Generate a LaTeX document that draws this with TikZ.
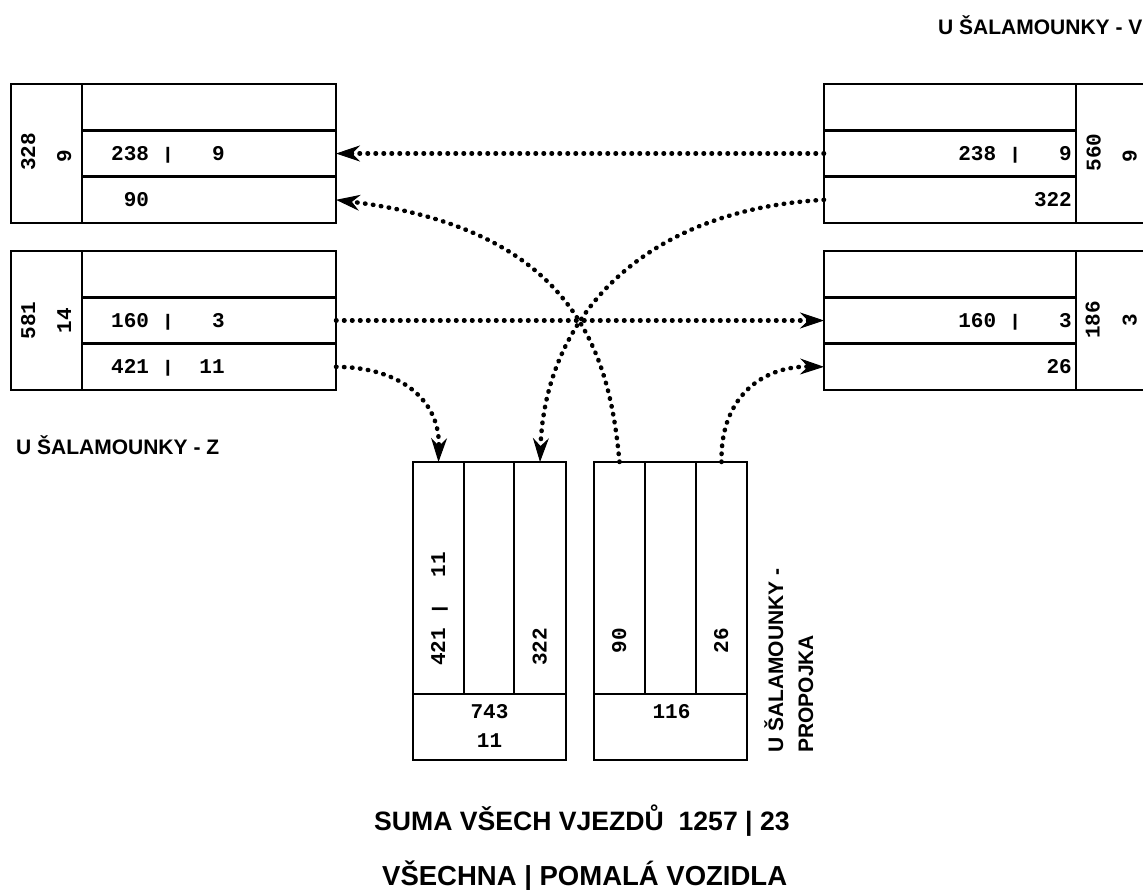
\documentclass[tikz,border=0pt]{standalone}
\usepackage{fontspec}
\usepackage{graphicx}
\setmainfont{Liberation Sans}
\newfontfamily\cellfont{Liberation Mono}
\usetikzlibrary{arrows.meta}
\newcommand\vbr{\raisebox{1pt}{\scalebox{1}[0.8]{|}}}
\tikzset{
 box/.style={draw, line width=2.8pt, rectangle, inner sep=0pt, outer sep=0pt},
 num/.style={font=\cellfont\bfseries\fontsize{21pt}{25pt}\selectfont, inner sep=0pt, text height=13pt, text depth=0pt},
 lab/.style={font=\bfseries\fontsize{21pt}{25pt}\selectfont, inner sep=0pt},
 title/.style={font=\bfseries\fontsize{27.5pt}{32pt}\selectfont, inner sep=0pt},
 flow/.style={line width=4.5pt, dash pattern=on 0.5pt off 7.5pt, line cap=round,
   -{Stealth[length=24pt,width=16pt,inset=8pt,line width=1pt]}},
}
\begin{document}
\begin{tikzpicture}[x=1pt,y=-1pt]
\useasboundingbox (0,0) rectangle (1143,889);
\clip (0,0) rectangle (1143,889);
\fill[white] (0,0) rectangle (1143,889);

% ---- top-left box
\node[box, minimum width=71pt, minimum height=139pt] (L1n) at (46.5,153.5) {};
\node[box, minimum width=254pt, minimum height=46.33pt] (L1a) at (209,107.17) {};
\node[box, minimum width=254pt, minimum height=46.33pt] (L1b) at (209,153.5) {};
\node[box, minimum width=254pt, minimum height=46.33pt] (L1c) at (209,199.83) {};
\node[num, rotate=90] (L1t) at (28.5,152) {328};
\node[num, rotate=90] (L1s) at (64.5,156) {9};
\node[num, anchor=west] (L1bt) at (111,153.5) {238~\vbr~~~9};
\node[num, anchor=west] (L1ct) at (111,199.83) {~90};

% ---- bottom-left box
\node[box, minimum width=71pt, minimum height=139pt] (L2n) at (46.5,320.5) {};
\node[box, minimum width=254pt, minimum height=46.33pt] (L2a) at (209,274.17) {};
\node[box, minimum width=254pt, minimum height=46.33pt] (L2b) at (209,320.5) {};
\node[box, minimum width=254pt, minimum height=46.33pt] (L2c) at (209,366.83) {};
\node[num, rotate=90] (L2t) at (28.5,320.5) {581};
\node[num, rotate=90] (L2s) at (64.5,320.5) {14};
\node[num, anchor=west] (L2bt) at (111,320.5) {160~\vbr~~~3};
\node[num, anchor=west] (L2ct) at (111,366.83) {421~\vbr~~11};

% ---- top-right box
\node[box, minimum width=74pt, minimum height=139pt] (R1n) at (1113,153.5) {};
\node[box, minimum width=252pt, minimum height=46.33pt] (R1a) at (950,107.17) {};
\node[box, minimum width=252pt, minimum height=46.33pt] (R1b) at (950,153.5) {};
\node[box, minimum width=252pt, minimum height=46.33pt] (R1c) at (950,199.83) {};
\node[num, rotate=90] (R1t) at (1094,152.5) {560};
\node[num, rotate=90] (R1s) at (1130,156) {9};
\node[num, anchor=east] (R1bt) at (1072,153.5) {238~\vbr~~~9};
\node[num, anchor=east] (R1ct) at (1072,199.83) {322};

% ---- bottom-right box
\node[box, minimum width=74pt, minimum height=139pt] (R2n) at (1113,320.5) {};
\node[box, minimum width=252pt, minimum height=46.33pt] (R2a) at (950,274.17) {};
\node[box, minimum width=252pt, minimum height=46.33pt] (R2b) at (950,320.5) {};
\node[box, minimum width=252pt, minimum height=46.33pt] (R2c) at (950,366.83) {};
\node[num, rotate=90] (R2t) at (1093,320) {186};
\node[num, rotate=90] (R2s) at (1130,320.5) {3};
\node[num, anchor=east] (R2bt) at (1072,320.5) {160~\vbr~~~3};
\node[num, anchor=east] (R2ct) at (1072,366.83) {26};

% ---- lower box 1
\node[box, minimum width=51pt, minimum height=232pt] (B1c1) at (438.5,578) {};
\node[box, minimum width=50pt, minimum height=232pt] (B1c2) at (489,578) {};
\node[box, minimum width=52pt, minimum height=232pt] (B1c3) at (540,578) {};
\node[box, minimum width=153pt, minimum height=66pt] (B1s) at (489.5,727) {};
\node[num, rotate=90, anchor=west] (B1t1) at (438.5,666) {421~\vbr~~11};
\node[num, rotate=90, anchor=west] (B1t3) at (540,666) {322};
\node[num] (B1st) at (489.5,712) {743};
\node[num] (B1ss) at (489.5,740.5) {11};

% ---- lower box 2
\node[box, minimum width=51pt, minimum height=232pt] (B2c1) at (619.5,578) {};
\node[box, minimum width=51pt, minimum height=232pt] (B2c2) at (670.5,578) {};
\node[box, minimum width=51pt, minimum height=232pt] (B2c3) at (721.5,578) {};
\node[box, minimum width=153pt, minimum height=66pt] (B2s) at (670.5,727) {};
\node[num, rotate=90, anchor=west] (B2t1) at (619.5,666) {~90};
\node[num, rotate=90, anchor=west] (B2t3) at (721.5,666) {~26};
\node[num] (B2st) at (671.5,712) {116};

% ---- labels
\node[lab, anchor=base west] (labV) at (938,34) {U ŠALAMOUNKY - V};
\node[lab, anchor=base west] (labZ) at (16,454) {U ŠALAMOUNKY - Z};
\node[lab, rotate=90, anchor=base west] (labP1) at (783,753) {U ŠALAMOUNKY -};
\node[lab, rotate=90, anchor=base west] (labP2) at (813,753) {PROPOJKA};
\node[title, font=\bfseries\fontsize{26.6pt}{30pt}\selectfont, anchor=base west] (sum) at (374,830) {SUMA VŠECH VJEZDŮ\ \ 1257 | 23};
\node[title, anchor=base west] (leg) at (382,885) {VŠECHNA | POMALÁ VOZIDLA};

% ---- connectors
\draw[flow] (R1b.west) -- (L1b.east);
\draw[flow] (L2b.east) -- (R2b.west);
\draw[flow] (R1c.west) .. controls (640,210) and (545,320) .. (B1c3.north);
\draw[flow] (B2c1.north) .. controls (610,360) and (580,230) .. (L1c.east);
\draw[flow] (L2c.east) .. controls (400,367) and (440,400) .. (B1c1.north);
\draw[flow] (B2c3.north) .. controls (720,395) and (765,366) .. (R2c.west);
\end{tikzpicture}
\end{document}
